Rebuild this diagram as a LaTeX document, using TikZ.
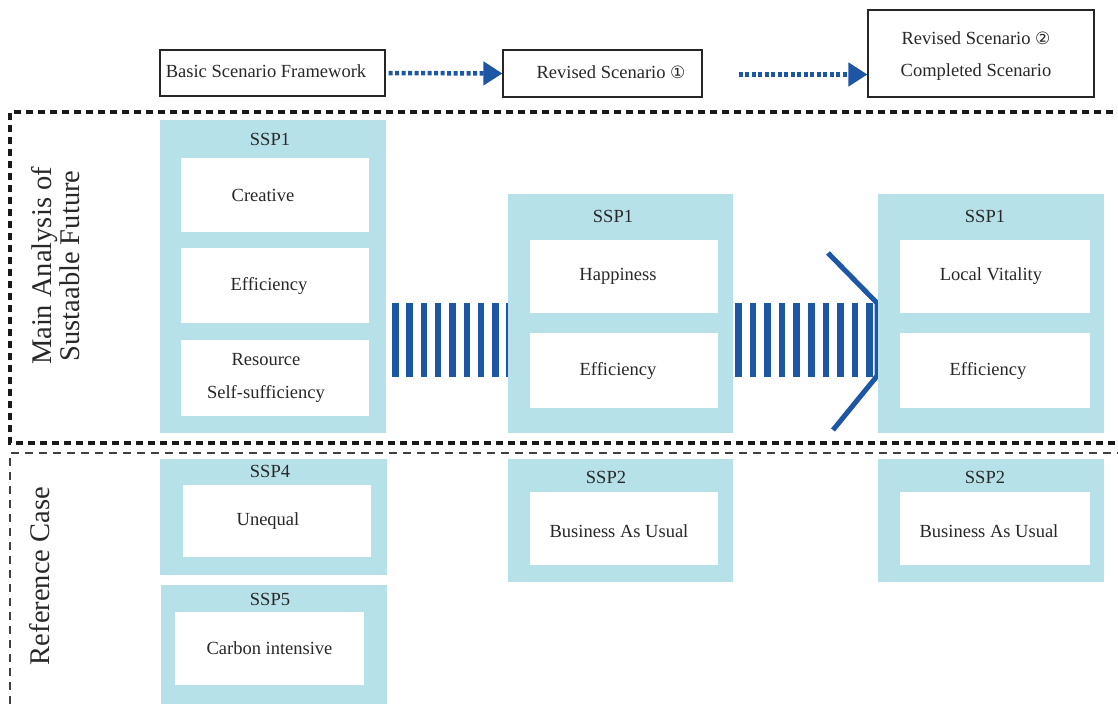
\documentclass[tikz,border=0pt]{standalone}
\usepackage{fontspec}
\setmainfont{Liberation Serif}
\newfontfamily\circfont{DejaVu Sans}
\usetikzlibrary{arrows.meta}
\definecolor{paleblue}{RGB}{183,225,232}
\definecolor{arrowblue}{RGB}{30,86,166}
\definecolor{inkgray}{RGB}{40,40,40}
\begin{document}
\begin{tikzpicture}[x=1pt,y=-1pt,
  every node/.style={inner sep=0pt, text=inkgray},
  basefont/.style={font=\fontsize{18.5}{33}\selectfont},
  headbox/.style={draw=black!85, line width=1.2pt, fill=white},
  outerbox/.style={fill=paleblue, draw=none},
  innerbox/.style={fill=white, draw=none},
  boxtext/.style={basefont, align=center},
  sidelabel/.style={rotate=90, align=center, font=\fontsize{28.5}{28}\selectfont},
  dotarrow/.style={draw=arrowblue, line width=4.5pt, dash pattern=on 4pt off 2.5pt,
    -{Triangle[length=19pt,width=23pt,fill=arrowblue]}},
  thickdash/.style={draw=black!90, line width=3.2pt, dash pattern=on 7pt off 5pt},
  thindash/.style={draw=black!75, line width=1.1pt, dash pattern=on 8pt off 6pt},
  stripe/.style={fill=arrowblue, draw=none}
]
\useasboundingbox (0,0) rectangle (1118,708);
\fill[white] (0,0) rectangle (1118,708);

% scenario progression headers
\node[headbox, minimum width=225pt, minimum height=46pt] (basic) at (272.5,73) {};
\node[boxtext] (basict) at (266,71) {Basic Scenario Framework};
\node[headbox, minimum width=199pt, minimum height=47pt] (rev1) at (602.5,73.5) {};
\node[boxtext] (rev1t) at (611,72) {Revised Scenario {\circfont\fontsize{17}{17}\selectfont ①}};
\node[headbox, minimum width=226pt, minimum height=87pt] (rev2) at (981,53.5) {};
\node[boxtext, font=\fontsize{18.5}{32}\selectfont] (rev2t) at (976,56) {Revised Scenario {\circfont\fontsize{17}{17}\selectfont ②}\\Completed Scenario};
\draw[dotarrow, shorten <=3pt] (basic.east) -- (rev1.west);
\draw[dotarrow, shorten <=36pt] ([yshift=-1pt]rev1.east) -- ([yshift=-1pt]rev1.east -| rev2.west);

% section frames
\draw[thickdash] (1125,112) -- (10,112) -- (10,443) -- (1125,443);
\draw[thindash] (1125,453) -- (10,453) -- (10,715);
\node[sidelabel] (mainlbl) at (56,266) {Main Analysis of\\Sustaable Future};
\node[sidelabel] (reflbl) at (40,576) {Reference Case};

% striped transition arrows
\foreach \i in {0,...,8} {
  \fill[stripe] (392+\i*14.3,303) rectangle ++(6.5,74);
}
\foreach \i in {0,...,9} {
  \fill[stripe] (735+\i*14.6,303) rectangle ++(6.5,74);
}
\draw[arrowblue, line width=5pt] (828,253) -- (877,303) -- (877,376) -- (833,430);

% main analysis: SSP1 columns
\node[outerbox, minimum width=226pt, minimum height=313pt] (a1) at (273,276.5) {};
\node[boxtext] (a1t) at (270,139) {SSP1};
\node[innerbox, minimum width=188pt, minimum height=74pt] (a1a) at (275,195) {};
\node[boxtext] at ([xshift=-12pt]a1a) {Creative};
\node[innerbox, minimum width=188pt, minimum height=75pt] (a1b) at (275,285.5) {};
\node[boxtext] at ([xshift=-6pt]a1b) {Efficiency};
\node[innerbox, minimum width=188pt, minimum height=76pt] (a1c) at (275,378) {};
\node[boxtext] at ([xshift=-9pt]a1c) {Resource\\Self-sufficiency};

\node[outerbox, minimum width=225pt, minimum height=239pt] (b1) at (620.5,313.5) {};
\node[boxtext] (b1t) at (613,216) {SSP1};
\node[innerbox, minimum width=188pt, minimum height=73pt] (b1a) at (624,276.5) {};
\node[boxtext] at ([xshift=-6pt]b1a) {Happiness};
\node[innerbox, minimum width=188pt, minimum height=75pt] (b1b) at (624,370.5) {};
\node[boxtext] at ([xshift=-6pt]b1b) {Efficiency};

\node[outerbox, minimum width=226pt, minimum height=239pt] (c1) at (991,313.5) {};
\node[boxtext] (c1t) at (985,216) {SSP1};
\node[innerbox, minimum width=190pt, minimum height=73pt] (c1a) at (995,276.5) {};
\node[boxtext] at ([xshift=-4pt]c1a) {Local Vitality};
\node[innerbox, minimum width=190pt, minimum height=75pt] (c1b) at (995,370.5) {};
\node[boxtext] at ([xshift=-7pt]c1b) {Efficiency};

% reference cases
\node[outerbox, minimum width=227pt, minimum height=116pt] (a4) at (273.5,517) {};
\node[boxtext] (a4t) at (270,471) {SSP4};
\node[innerbox, minimum width=188pt, minimum height=72pt] (a4a) at (277,521) {};
\node[boxtext] at ([xshift=-9pt]a4a) {Unequal};

\node[outerbox, minimum width=226pt, minimum height=119pt] (a5) at (274,644.5) {};
\node[boxtext] (a5t) at (270,599) {SSP5};
\node[innerbox, minimum width=189pt, minimum height=73pt] (a5a) at (269.5,648.5) {};
\node[boxtext] at (a5a) {Carbon intensive};

\node[outerbox, minimum width=225pt, minimum height=123pt] (b2) at (620.5,520.5) {};
\node[boxtext] (b2t) at (606,477) {SSP2};
\node[innerbox, minimum width=188pt, minimum height=73pt] (b2a) at (624,528.5) {};
\node[boxtext] at ([xshift=-5pt,yshift=-2.5pt]b2a) {Business As Usual};

\node[outerbox, minimum width=226pt, minimum height=123pt] (c2) at (991,520.5) {};
\node[boxtext] (c2t) at (985,477) {SSP2};
\node[innerbox, minimum width=190pt, minimum height=73pt] (c2a) at (995,528.5) {};
\node[boxtext] at ([xshift=-6pt,yshift=-2.5pt]c2a) {Business As Usual};
\end{tikzpicture}
\end{document}
